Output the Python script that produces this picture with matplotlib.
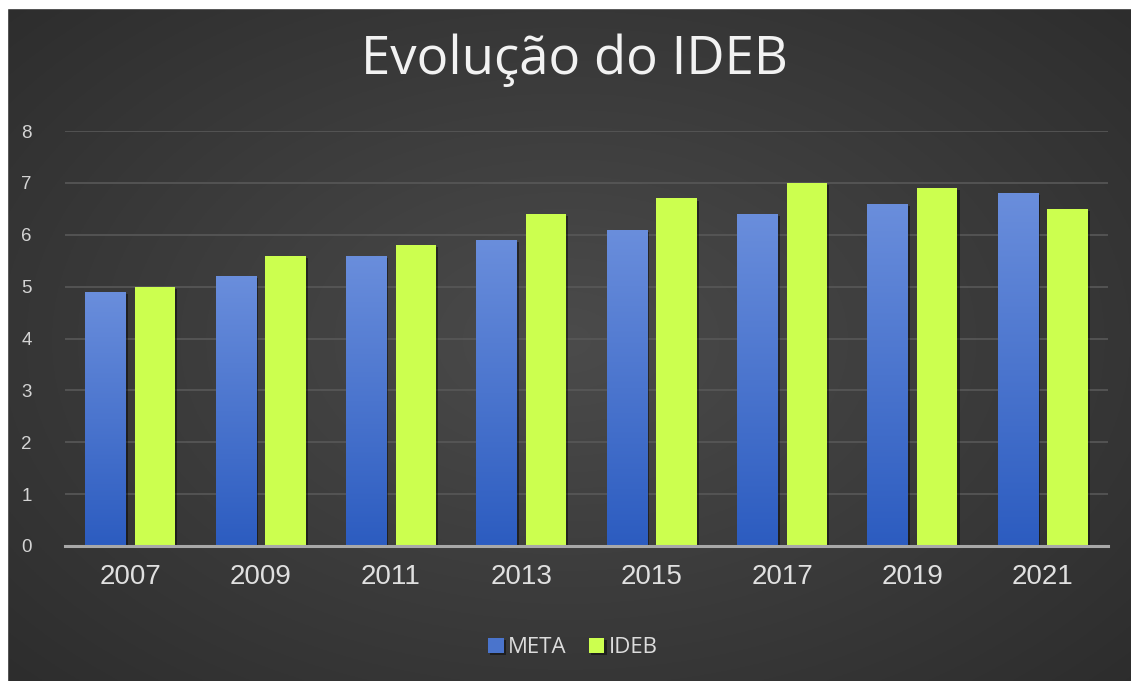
import numpy as np
import matplotlib.pyplot as plt
import matplotlib.patheffects as pe
from matplotlib.patches import Rectangle

YEARS = ['2007', '2009', '2011', '2013', '2015', '2017', '2019', '2021']
META = [4.9, 5.2, 5.6, 5.9, 6.1, 6.4, 6.6, 6.8]
IDEB = [5.0, 5.6, 5.8, 6.4, 6.7, 7.0, 6.9, 6.5]
Y_TICKS = [0, 1, 2, 3, 4, 5, 6, 7, 8]

W, H = 1131, 681
fig = plt.figure(figsize=(W / 100, H / 100), dpi=100)
fig.patch.set_facecolor('#2c2c2c')

# dark radial background
bg = fig.add_axes([0, 0, 1, 1])
bg.set_axis_off()
yy, xx = np.mgrid[0:1:400j, 0:1:700j]
r = np.sqrt(((xx - 0.5) / 0.75) ** 2 + ((yy - 0.5) / 0.8) ** 2)
r = np.clip(r, 0, 1)
inner = np.array([0x4b, 0x4b, 0x4b]) / 255
outer = np.array([0x2a, 0x2a, 0x2a]) / 255
img = inner[None, None, :] * (1 - r[..., None]) + outer[None, None, :] * r[..., None]
bg.imshow(img, extent=[0, 1, 0, 1], aspect='auto', origin='lower')
bg.set_xlim(0, 1)
bg.set_ylim(0, 1)
# thin white strip top and left
bg.add_patch(Rectangle((0, 0), 7 / W, 1, color='white', zorder=5))
bg.add_patch(Rectangle((0, 1 - 8 / H), 1, 8 / H, color='white', zorder=5))

ax = fig.add_axes([65 / W, (H - 546) / H, (1108 - 65) / W, (546 - 131) / H])
ax.patch.set_alpha(0)

x = np.arange(len(YEARS))
bw = 0.31
off = 0.19

shadow = [pe.SimplePatchShadow(offset=(1.5, -1.5), shadow_rgbFace='black', alpha=0.45), pe.Normal()]
meta_bars = ax.bar(x - off, META, bw, color='#4a74cc', label='META', zorder=3,
                   path_effects=shadow)
ideb_bars = ax.bar(x + off, IDEB, bw, color='#ccff4f', label='IDEB', zorder=3,
                   path_effects=shadow)

# vertical gradient on the blue bars
grad = np.linspace(0, 1, 256)[:, None]
top_c = np.array([0x6a, 0x8e, 0xdc]) / 255
bot_c = np.array([0x2c, 0x5c, 0xc0]) / 255
gimg = bot_c[None, None, :] * (1 - grad[..., None]) + top_c[None, None, :] * grad[..., None]
for b in meta_bars:
    bx = b.get_x()
    im = ax.imshow(gimg, extent=[bx, bx + b.get_width(), 0, b.get_height()],
                   aspect='auto', origin='lower', zorder=4)
    im.set_clip_path(b)

ax.set_xlim(-0.5, len(YEARS) - 0.5)
ax.set_ylim(0, 8)
ax.set_yticks(Y_TICKS)
ax.set_yticklabels([str(t) for t in Y_TICKS])
ax.set_xticks(x)
ax.set_xticklabels(YEARS)

ax.grid(axis='y', color='#585858', linewidth=1.2, zorder=0)
ax.set_axisbelow(True)
for s in ['top', 'right', 'left']:
    ax.spines[s].set_visible(False)
ax.spines['bottom'].set_color('#a8a8a8')
ax.spines['bottom'].set_linewidth(2.2)
ax.spines['bottom'].set_zorder(5)

ax.tick_params(axis='y', length=0, pad=24, labelsize=13.5, labelcolor='#d4d4d4')
ax.tick_params(axis='x', length=0, pad=13, labelsize=20, labelcolor='#e0e0e0')
for lbl in ax.get_xticklabels() + ax.get_yticklabels():
    lbl.set_family('Liberation Sans')

fig.text(574 / W, (H - 60) / H, 'Evolução do IDEB', ha='center', va='center',
         fontsize=38, color='#f2f2f2', family='Open Sans')

leg = ax.legend(loc='center', bbox_to_anchor=(0.487, -0.245), ncol=2, frameon=False,
                handlelength=0.7, handleheight=0.7, handletextpad=0.2,
                columnspacing=1.0, prop={'family': 'Open Sans', 'size': 16})
for t in leg.get_texts():
    t.set_color('#dcdcdc')

fig.savefig('out.png', dpi=100, facecolor=fig.get_facecolor())
